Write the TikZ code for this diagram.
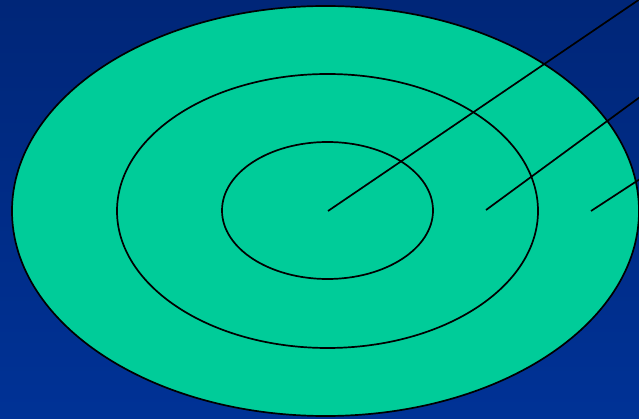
\documentclass[tikz,border=0pt]{standalone}
\definecolor{bgtop}{RGB}{0,38,120}
\definecolor{bgbot}{RGB}{0,50,150}
\definecolor{ring}{RGB}{0,204,153}
\tikzset{
  ringline/.style={draw=black, line width=1.7pt},
  pointer/.style={draw=black, line width=1.7pt},
}
\begin{document}
\begin{tikzpicture}[x=1pt,y=-1pt]
  \shade[top color=bgtop, bottom color=bgbot] (0,0) rectangle (639,419);
  \useasboundingbox (0,0) rectangle (639,419);
  \begin{scope}
    \clip (0,0) rectangle (639,419);
    \path[ringline, fill=ring] (325.5,211) ellipse [x radius=313.5, y radius=205];
    \path[ringline] (327.5,211) ellipse [x radius=210.5, y radius=137];
    \path[ringline] (327.5,210.5) ellipse [x radius=105.5, y radius=68.5];
    \coordinate (c1) at (328,211);
    \coordinate (e1) at (640,-1);
    \coordinate (c2) at (486,210);
    \coordinate (e2) at (640,97);
    \coordinate (c3) at (591,211);
    \coordinate (e3) at (640,179);
    \draw[pointer] (c1) -- (e1);
    \draw[pointer] (c2) -- (e2);
    \draw[pointer] (c3) -- (e3);
  \end{scope}
\end{tikzpicture}
\end{document}
